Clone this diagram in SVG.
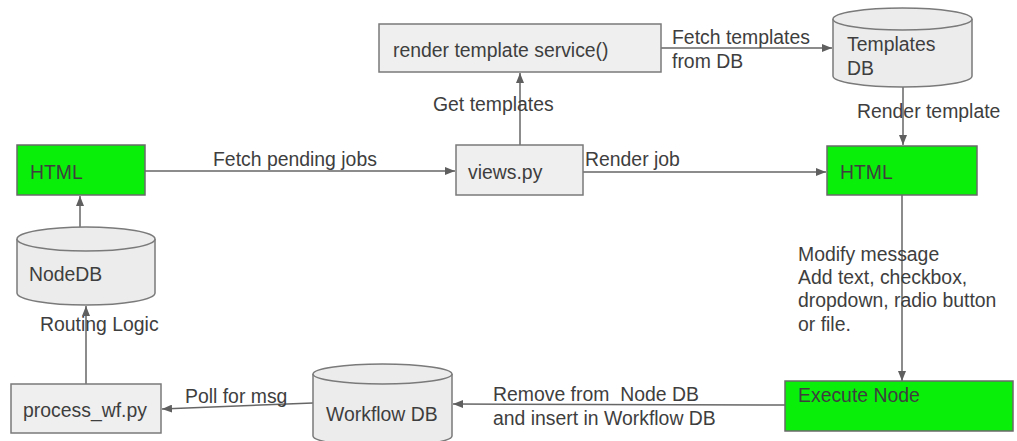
<svg xmlns="http://www.w3.org/2000/svg" width="1017" height="441" viewBox="0 0 1017 441">
  <defs>
    <marker id="arrow" markerWidth="10" markerHeight="8" refX="10" refY="4" orient="auto" markerUnits="userSpaceOnUse">
      <path d="M0,0 L10,4 L0,8 Z" fill="#5f5f5f"/>
    </marker>
    <style>
      .box { fill: #efefef; stroke: #7a7a7a; stroke-width: 1.5; }
      .green { fill: #0aef0a; stroke: #6a6a6a; stroke-width: 1.5; }
      .db { fill: #ececec; stroke: #7a7a7a; stroke-width: 1.5; }
      .lbl { font-family: "Liberation Sans", Arial, sans-serif; font-size: 19.4px; fill: #3e3e3e; white-space: pre; }
      .edge { fill: none; stroke: #666; stroke-width: 1.5; marker-end: url(#arrow); }
    </style>
  </defs>
  <rect width="1017" height="441" fill="#ffffff"/>

  <!-- connectors -->
  <g id="connectors">
    <line class="edge" x1="145" y1="171" x2="455" y2="171"/>
    <line class="edge" x1="583" y1="172" x2="826" y2="172"/>
    <line class="edge" x1="520" y1="145" x2="520" y2="73"/>
    <line class="edge" x1="661" y1="48" x2="832" y2="48"/>
    <line class="edge" x1="903" y1="87" x2="903" y2="145"/>
    <line class="edge" x1="902" y1="195" x2="902" y2="381"/>
    <line class="edge" x1="785" y1="405" x2="453" y2="404"/>
    <line class="edge" x1="313" y1="403" x2="162" y2="409"/>
    <line class="edge" x1="86" y1="384" x2="86" y2="306"/>
    <line class="edge" x1="80" y1="227" x2="80" y2="196"/>
    <text class="lbl" x="213" y="166">Fetch pending jobs</text>
    <text class="lbl" x="585" y="166">Render job</text>
    <text class="lbl" x="433" y="111">Get templates</text>
    <text class="lbl" x="672" y="44">Fetch templates</text>
    <text class="lbl" x="672" y="68">from DB</text>
    <text class="lbl" x="857" y="118">Render template</text>
    <text class="lbl" x="798" y="261">Modify message</text>
    <text class="lbl" x="798" y="284">Add text, checkbox,</text>
    <text class="lbl" x="798" y="307">dropdown, radio button</text>
    <text class="lbl" x="798" y="331">or file.</text>
    <text class="lbl" x="493" y="401" xml:space="preserve">Remove from  Node DB</text>
    <text class="lbl" x="493" y="425">and insert in Workflow DB</text>
    <text class="lbl" x="185" y="403">Poll for msg</text>
    <text class="lbl" x="40" y="331">Routing Logic</text>
  </g>

  <g id="html-left">
    <rect class="green" x="17" y="145" width="128" height="50"/>
    <text class="lbl" x="30" y="179">HTML</text>
  </g>

  <g id="views">
    <rect class="box" x="456" y="145" width="127" height="50"/>
    <text class="lbl" x="468" y="179">views.py</text>
  </g>

  <g id="render-service">
    <rect class="box" x="379" y="24" width="282" height="48"/>
    <text class="lbl" x="393" y="57">render template service()</text>
  </g>

  <g id="templates-db">
    <path class="db" d="M833,19 A69.5,11 0 0 1 972,19 V76 A69.5,11 0 0 1 833,76 Z"/>
    <path class="db" d="M833,19 A69.5,11 0 0 0 972,19" fill="none"/>
    <text class="lbl" x="847" y="51">Templates</text>
    <text class="lbl" x="847" y="75">DB</text>
  </g>

  <g id="html-right">
    <rect class="green" x="827" y="146" width="150" height="49"/>
    <text class="lbl" x="840" y="179">HTML</text>
  </g>

  <g id="execute-node">
    <rect class="green" x="785" y="381" width="228" height="50"/>
    <text class="lbl" x="798" y="402">Execute Node</text>
  </g>

  <g id="workflow-db">
    <path class="db" d="M313,374 A69.5,10 0 0 1 452,374 V436 A69.5,10 0 0 1 313,436 Z"/>
    <path class="db" d="M313,374 A69.5,10 0 0 0 452,374" fill="none"/>
    <text class="lbl" x="326" y="421">Workflow DB</text>
  </g>

  <g id="process-wf">
    <rect class="box" x="11" y="384" width="150" height="49"/>
    <text class="lbl" x="23" y="417">process_wf.py</text>
  </g>

  <g id="node-db">
    <path class="db" d="M17,239 A69,12 0 0 1 155,239 V293 A69,12 0 0 1 17,293 Z"/>
    <path class="db" d="M17,239 A69,12 0 0 0 155,239" fill="none"/>
    <text class="lbl" x="29" y="281">NodeDB</text>
  </g>
</svg>
